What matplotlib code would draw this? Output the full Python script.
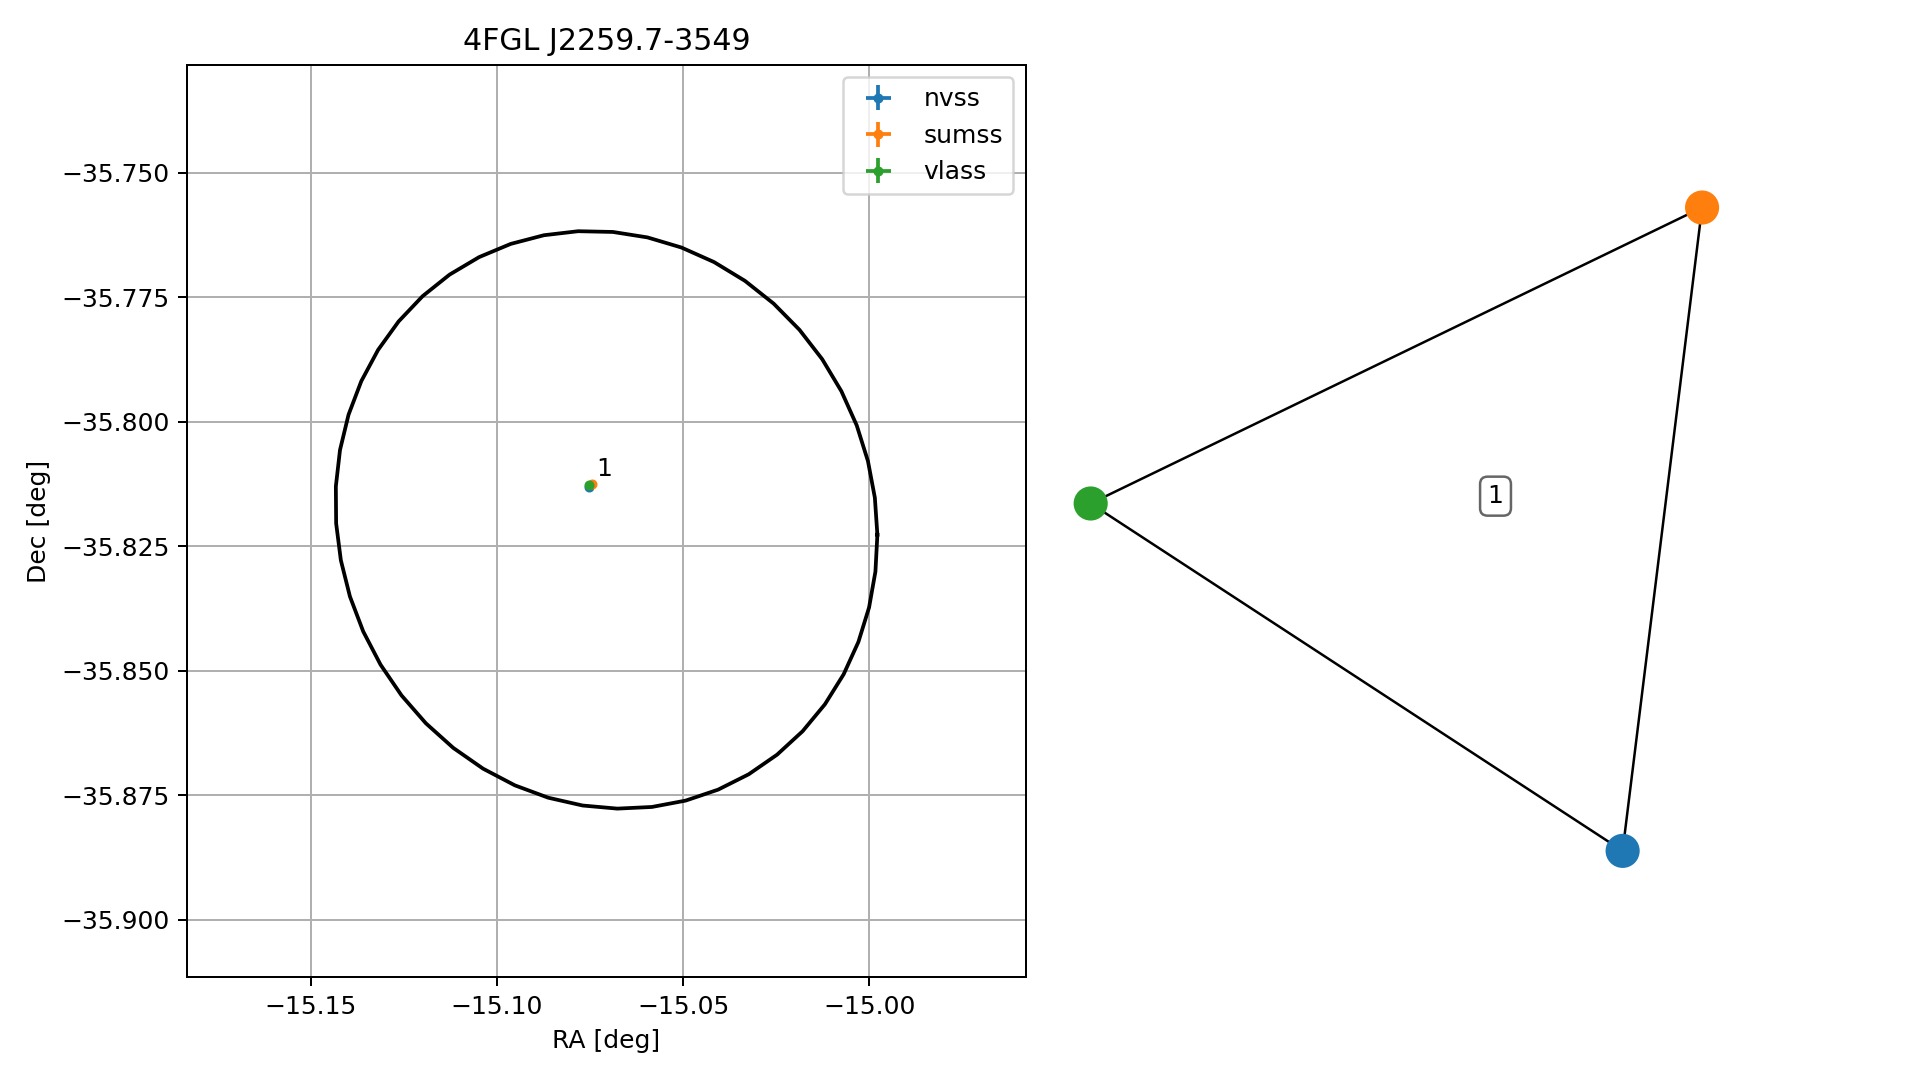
import numpy as np
import matplotlib.pyplot as plt

# source positions (deg)
surveys = ['nvss', 'sumss', 'vlass']
ra = [-15.0752, -15.0745, -15.0754]
dec = [-35.8131, -35.8126, -35.8127]
ra_err = [0.0004, 0.0004, 0.0002]
dec_err = [0.0004, 0.0004, 0.0002]
colors = ['tab:blue', 'tab:orange', 'tab:green']

# 4FGL error ellipse
ell_ra0, ell_dec0 = -15.0706, -35.8197
ell_a, ell_b = 0.0728, 0.0579
ell_kx, ell_ky = -0.0006, -0.0030
n_vert = 50

# graph layout on the right (axes fraction)
node_x = [0.821, 0.936, 0.051]
node_y = [0.062, 0.938, 0.535]
edges = [(0, 1), (1, 2), (2, 0)]
label_pos = (0.637, 0.545)

fig = plt.figure(figsize=(1919/180, 1080/180), dpi=180)

ax = fig.add_axes([0.0976, 0.0952, 0.4368, 0.8447])
t = np.linspace(0, 2*np.pi, n_vert)
ex = ell_ra0 + ell_a*np.cos(t) + ell_kx*np.sin(t)
ey = ell_dec0 + ell_b*np.sin(t) + ell_ky*np.cos(t)
ax.plot(ex, ey, 'k-', lw=1.5)

for i in range(3):
    ax.errorbar(ra[i], dec[i], xerr=ra_err[i], yerr=dec_err[i], fmt='o',
                ms=3, color=colors[i], label=surveys[i])
ax.text(-15.0734, -35.8109, '1', fontsize=10)

ax.set_xlim(-15.1832, -14.9580)
ax.set_ylim(-35.9115, -35.7284)
ax.set_xticks([-15.15, -15.10, -15.05, -15.00])
ax.set_yticks([-35.75, -35.775, -35.80, -35.825, -35.85, -35.875, -35.90])
ax.grid(True)
ax.set_xlabel('RA [deg]')
ax.set_ylabel('Dec [deg]')
ax.set_title('4FGL J2259.7-3549')
ax.legend(loc='upper right')

ax2 = fig.add_axes([0.55, 0.17, 0.36, 0.68])
for a, b in edges:
    ax2.plot([node_x[a], node_x[b]], [node_y[a], node_y[b]], 'k-', lw=1, zorder=1)
ax2.scatter(node_x, node_y, s=160, c=colors, zorder=2)
ax2.text(label_pos[0], label_pos[1], '1', ha='center', va='center', fontsize=10,
         bbox=dict(boxstyle='round', fc='white', ec='0.4'))
ax2.set_xlim(0, 1)
ax2.set_ylim(0, 1)
ax2.axis('off')

plt.savefig('out.png', dpi=180)
